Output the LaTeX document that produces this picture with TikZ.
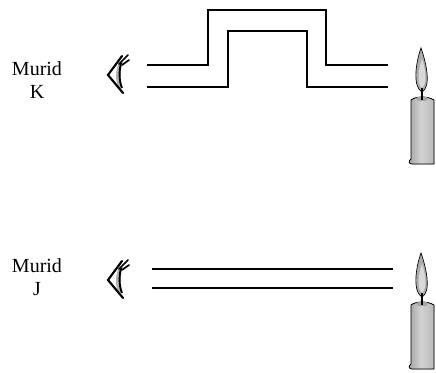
\documentclass[tikz,border=0pt]{standalone}
\usepackage{fontspec}
\setmainfont{Liberation Serif}
\usetikzlibrary{positioning}

\tikzset{
  tube/.style={line width=1.5pt, line join=miter},
  murid/.style={font=\fontsize{15}{17.5}\selectfont, align=center, inner sep=0pt},
  % side view of an eye, vertex at the origin
  pics/eye/.style={code={
    \fill[gray!60] (11,-12) .. controls (7,-5) and (7,6) .. (11,13)
      -- (14,12) .. controls (12,5) and (12,-5) .. (15,-13) -- cycle;
    \draw[line width=1.6pt, line cap=round] (14,-19) -- (0,0) -- (15,18);
    \draw[line width=1.3pt, line cap=round] (11,-11) -- (20,-20);
    \draw[line width=1.3pt, line cap=round] (14,-10) -- (21,-15);
    \draw[line width=1.4pt] (13,-12) .. controls (11,-4) and (11,6) .. (14,13);
  }},
  % candle, origin at the middle of the top of the body
  pics/candle/.style={code={
    \filldraw[left color=gray!75, right color=gray!55, middle color=gray!35, line width=0.6pt]
      (-11,3) -- (-11,62) .. controls (-14,64) and (-13,67) .. (-10,67)
      -- (12,67) -- (12,3) .. controls (6,-1) and (-6,-1) .. (-11,3) -- cycle;
    \fill[gray!70] (-6,1) .. controls (-2,-1) and (3,-1) .. (6,1) -- (4,4) -- (-4,4) -- cycle;
    \filldraw[fill=gray!65, line width=0.5pt]
      (0,-5) .. controls (-9,-10) and (-7,-32) .. (-1,-49)
      .. controls (5,-32) and (9,-10) .. (0,-5) -- cycle;
    \fill[gray!30] (0,-9) .. controls (-5,-13) and (-4,-27) .. (0,-38)
      .. controls (4,-27) and (5,-13) .. (0,-9) -- cycle;
    \draw[line width=1.2pt] (0,-9) -- (0,3);
  }}
}

\begin{document}
\begin{tikzpicture}[x=0.75pt, y=-0.75pt]
\useasboundingbox (0,0) rectangle (436,372);

% --- Murid K: light through a bent tube ---
\node[murid] (muridK) at (37,80) {Murid\\K};
\pic at (108,75) {eye};
\draw[tube] (147,64.5) -- (208,64.5) -- (208,9.5) -- (326,9.5) -- (326,64.5) -- (388,64.5);
\draw[tube] (147,86.7) -- (228,86.7) -- (228,30.7) -- (307,30.7) -- (307,86.7) -- (388,86.7);
\pic at (422,97) {candle};

% --- Murid J: light through a straight tube ---
\node[murid] (muridJ) at (37,277) {Murid\\J};
\pic at (108,280) {eye};
\draw[tube] (152,269.3) -- (393,269.3);
\draw[tube] (152,288.3) -- (393,288.3);
\pic at (422,302) {candle};

\end{tikzpicture}
\end{document}
